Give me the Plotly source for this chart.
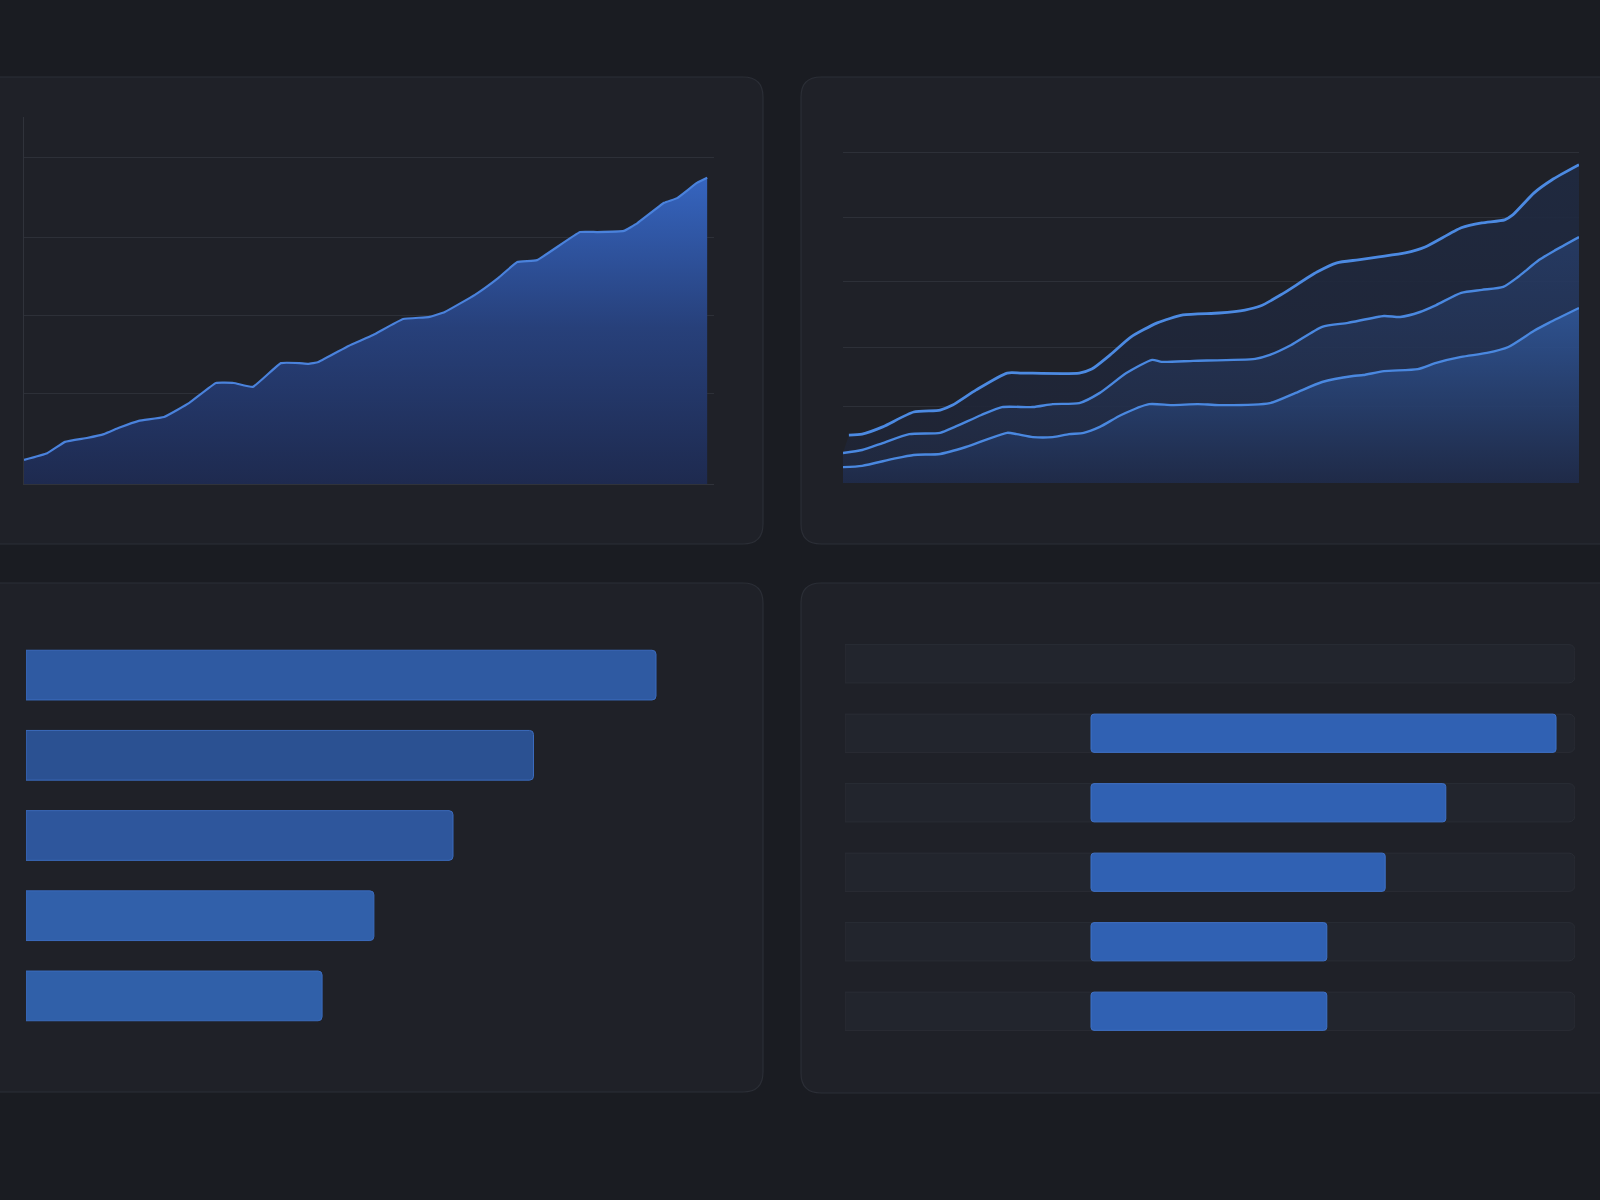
import plotly.graph_objects as go

W, H = 1600, 1200

# ---------------- data ----------------
# Panel 1: single area series
p1_x = [0, 3.4, 6.0, 9.2, 11.7, 13.9, 16.8, 20.5, 24.2, 28.1, 30.7, 33.5, 37.6, 40.3, 41.6, 43.1,
        47.5, 51.1, 55.5, 59.2, 61.6, 66.0, 69.4, 72.2, 75.1, 81.4, 83.9, 87.8, 89.8, 93.7, 95.6, 98.5, 100]
p1_y = [6.2, 7.9, 10.8, 11.8, 12.8, 14.4, 16.2, 17.2, 20.8, 25.9, 25.9, 24.9, 31.0, 31.0, 30.8, 31.3,
        35.4, 38.2, 42.3, 42.8, 44.1, 48.5, 52.8, 56.9, 57.4, 64.6, 64.6, 64.9, 66.9, 72.1, 73.3, 77.2, 78.5]
p1_grid = [23.3, 43.3, 63.3, 83.8]

# Panel 2: three layered lines
p2_top_x = [0.8, 2.6, 5.4, 9.6, 13.2, 14.9, 18.1, 22.3, 24.3, 32.1, 33.8, 36.3, 39.1, 42.7, 46.2, 51.1,
            54.6, 56.7, 59.5, 64.4, 67.1, 70.0, 72.8, 76.4, 79.1, 84.0, 86.8, 89.9, 91.0, 93.9, 96.3, 100]
p2_top_y = [14.5, 14.8, 17.0, 21.5, 22.1, 23.6, 28.2, 33.3, 33.3, 33.3, 34.5, 38.8, 44.2, 48.5, 50.9, 51.5,
            52.4, 53.6, 57.0, 63.9, 66.7, 67.6, 68.5, 69.7, 71.5, 77.3, 78.8, 79.7, 81.2, 87.9, 91.8, 96.4]
p2_mid_x = [0, 2.6, 5.4, 9.0, 13.2, 15.2, 18.8, 21.6, 25.8, 28.5, 32.1, 34.9, 38.5, 42.0, 43.3, 47.6,
            56.0, 58.0, 60.9, 65.1, 68.6, 73.5, 75.7, 78.4, 80.6, 84.0, 86.8, 89.7, 91.7, 94.6, 96.6, 100]
p2_mid_y = [9.1, 10.0, 12.1, 14.8, 15.2, 17.0, 20.6, 23.0, 23.0, 23.9, 24.2, 27.3, 33.3, 37.3, 36.7, 37.0,
            37.6, 38.8, 41.8, 47.3, 48.5, 50.6, 50.3, 51.8, 53.9, 57.6, 58.5, 59.4, 62.4, 67.6, 70.3, 74.5]
p2_bot_x = [0, 2.6, 6.8, 9.6, 13.2, 16.7, 22.3, 23.6, 25.8, 28.5, 30.7, 32.7, 34.9, 37.8, 41.6, 44.7,
            48.2, 51.1, 58.0, 61.5, 65.1, 69.3, 70.7, 73.5, 78.1, 80.6, 84.0, 87.5, 90.4, 93.9, 95.9, 100]
p2_bot_y = [4.8, 5.2, 7.3, 8.5, 8.8, 10.9, 15.2, 14.8, 13.9, 13.9, 14.8, 15.2, 17.0, 20.6, 23.9, 23.6,
            23.9, 23.6, 24.2, 27.3, 30.6, 32.4, 32.7, 33.9, 34.5, 36.4, 38.2, 39.4, 41.2, 46.1, 48.5, 53.0]
p2_grid = [23.3, 40.9, 60.9, 80.3, 100]

# Panel 3: horizontal bars
p3_cats = ["A", "B", "C", "D", "E"]
p3_vals = [90.0, 72.5, 61.0, 49.7, 42.3]
p3_colors = ["#2f5aa2", "#2b5192", "#2e569c", "#3160aa", "#3060a9"]

# Panel 4: floating bars over tracks
p4_cats = ["R1", "R2", "R3", "R4", "R5", "R6"]
p4_track = [100, 100, 100, 100, 100, 100]
p4_base = [None, 33.7, 33.7, 33.7, 33.7, 33.7]
p4_len = [None, 63.7, 48.6, 40.3, 32.3, 32.3]

# ---------------- helpers ----------------
def px_x(v):
    return v / W

def px_y(v):
    return 1 - v / H

def rounded_rect(x0, y0, x1, y1, r):
    # pixel inputs -> paper path
    X = lambda v: f"{px_x(v):.5f}"
    Y = lambda v: f"{px_y(v):.5f}"
    return (f"M {X(x0 + r)} {Y(y0)} L {X(x1 - r)} {Y(y0)} "
            f"Q {X(x1)} {Y(y0)} {X(x1)} {Y(y0 + r)} L {X(x1)} {Y(y1 - r)} "
            f"Q {X(x1)} {Y(y1)} {X(x1 - r)} {Y(y1)} L {X(x0 + r)} {Y(y1)} "
            f"Q {X(x0)} {Y(y1)} {X(x0)} {Y(y1 - r)} L {X(x0)} {Y(y0 + r)} "
            f"Q {X(x0)} {Y(y0)} {X(x0 + r)} {Y(y0)} Z")

BG = "#1a1c22"
PANEL = "#1f2128"
PANEL_LINE = "#2b2e36"
GRID = "#2d3038"

fig = go.Figure()

# Panel 1 area
fig.add_trace(go.Scatter(
    x=p1_x, y=p1_y, xaxis="x", yaxis="y", mode="lines",
    line=dict(color="#4a82dc", width=2.2, shape="spline", smoothing=0.3),
    fill="tozeroy",
    fillgradient=dict(type="vertical", start=0, stop=80,
                      colorscale=[[0, "#1e2a4f"], [0.5, "#27407a"], [1, "#3666c2"]]),
    hoverinfo="skip", showlegend=False))

# Panel 2 layered lines
fig.add_trace(go.Scatter(
    x=p2_bot_x, y=p2_bot_y, xaxis="x2", yaxis="y2", mode="lines",
    line=dict(color="#4a88e0", width=2.4, shape="spline", smoothing=0.6),
    fill="tozeroy",
    fillgradient=dict(type="vertical", start=0, stop=55,
                      colorscale=[[0, "rgba(31,43,74,0.92)"], [1, "rgba(48,88,156,0.92)"]]),
    hoverinfo="skip", showlegend=False))
fig.add_trace(go.Scatter(
    x=p2_mid_x, y=p2_mid_y, xaxis="x2", yaxis="y2", mode="lines",
    line=dict(color="#4a88e0", width=2.4, shape="spline", smoothing=0.6),
    fill="tonexty",
    fillgradient=dict(type="vertical", start=0, stop=75,
                      colorscale=[[0, "rgba(32,40,62,0.9)"], [1, "rgba(38,60,104,0.9)"]]),
    hoverinfo="skip", showlegend=False))
fig.add_trace(go.Scatter(
    x=p2_top_x, y=p2_top_y, xaxis="x2", yaxis="y2", mode="lines",
    line=dict(color="#4c8ae2", width=2.8, shape="spline", smoothing=0.6),
    fill="tonexty",
    fillgradient=dict(type="vertical", start=0, stop=97,
                      colorscale=[[0, "rgba(31,36,52,0.9)"], [1, "rgba(31,42,66,0.9)"]]),
    hoverinfo="skip", showlegend=False))

# Panel 3 bars
fig.add_trace(go.Bar(
    x=p3_vals, y=p3_cats, orientation="h", xaxis="x3", yaxis="y3",
    marker=dict(color=p3_colors, line=dict(color="#3b6bbd", width=1), cornerradius=4),
    width=0.62, hoverinfo="skip", showlegend=False))

# Panel 4 tracks + floating bars
fig.add_trace(go.Bar(
    x=p4_track, y=p4_cats, orientation="h", xaxis="x4", yaxis="y4",
    marker=dict(color="#22252d", line=dict(color="#2a2d35", width=1), cornerradius=6),
    width=0.55, hoverinfo="skip", showlegend=False))
fig.add_trace(go.Bar(
    x=p4_len, y=p4_cats, base=p4_base, orientation="h", xaxis="x4", yaxis="y4",
    marker=dict(color="#3061b3", line=dict(color="#3f72c8", width=1), cornerradius=3),
    width=0.55, hoverinfo="skip", showlegend=False))

# panel backgrounds
shapes = []
for (x0, y0, x1, y1) in [(-30, 77, 763, 544), (801, 77, 1650, 544),
                         (-30, 583, 763, 1092), (801, 583, 1650, 1093)]:
    shapes.append(dict(type="path", xref="paper", yref="paper", layer="below",
                       path=rounded_rect(x0, y0, x1, y1, 20),
                       fillcolor=PANEL, line=dict(color=PANEL_LINE, width=1.2)))

hidden = dict(showgrid=False, zeroline=False, showticklabels=False, ticks="", showline=False)

fig.update_layout(
    width=W, height=H,
    margin=dict(l=0, r=0, t=0, b=0),
    paper_bgcolor=BG, plot_bgcolor="rgba(0,0,0,0)",
    barmode="overlay",
    shapes=shapes,
    xaxis=dict(domain=[px_x(24), px_x(714)], range=[0, 101], **{**hidden, "showline": True},
               linecolor="#30333b", linewidth=1),
    yaxis=dict(domain=[px_y(484), px_y(117)], range=[0, 94.1], tickvals=p1_grid,
               showgrid=True, gridcolor=GRID, gridwidth=1, zeroline=False,
               showticklabels=False, ticks="", showline=True, linecolor="#30333b", linewidth=1),
    xaxis2=dict(domain=[px_x(843), px_x(1579)], range=[0, 100], anchor="y2", **hidden),
    yaxis2=dict(domain=[px_y(483), px_y(140)], range=[0, 103.9], anchor="x2", tickvals=p2_grid,
                showgrid=True, gridcolor=GRID, gridwidth=1, zeroline=False,
                showticklabels=False, ticks="", showline=False),
    xaxis3=dict(domain=[px_x(26), px_x(726)], range=[0, 100], anchor="y3", **hidden),
    yaxis3=dict(domain=[px_y(1036), px_y(635)], anchor="x3", autorange="reversed", **hidden),
    xaxis4=dict(domain=[px_x(845), px_x(1575)], range=[0, 100], anchor="y4", **hidden),
    yaxis4=dict(domain=[px_y(1046), px_y(629)], anchor="x4", autorange="reversed", **hidden),
)

fig.write_html(
    "out.html",
    config={"displayModeBar": False},
    post_script=("document.body.style.margin='0';"
                 "document.body.style.background='#1a1c22';"
                 "document.body.style.overflow='hidden';"),
)
